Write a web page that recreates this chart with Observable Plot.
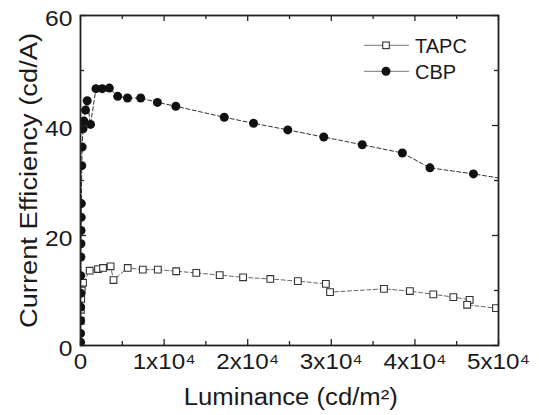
<!DOCTYPE html>
<html>
<head>
<meta charset="utf-8">
<script src="https://cdn.jsdelivr.net/npm/d3@7"></script>
<script src="https://cdn.jsdelivr.net/npm/@observablehq/plot@0.6"></script>
<style>
  html, body { margin: 0; padding: 0; background: #fff; }
  #chart svg { display: block; }
</style>
</head>
<body>
<div id="chart"></div>
<script>
// Data
const cbpLum = [3, 6, 10, 15, 22, 30, 40, 52, 66, 82, 100, 150, 200, 300, 410, 600, 800, 1200, 1850, 2600, 3450, 4450, 5620, 7200, 9200, 11400, 17200, 20700, 24800, 29100, 33700, 38500, 41800, 47000, 51500];
const cbpCE  = [0.6, 2.2, 4.5, 7.0, 9.5, 12.7, 16.1, 18.5, 20.9, 23.3, 25.8, 32.7, 36.1, 39.4, 40.8, 42.8, 44.5, 40.2, 46.7, 46.7, 46.8, 45.3, 45.0, 45.0, 44.2, 43.5, 41.5, 40.4, 39.2, 37.9, 36.5, 35.0, 32.3, 31.2, 30.1];

const tapcLum = [20, 40, 80, 150, 300, 1100, 2100, 2700, 3600, 3950, 5650, 7450, 9250, 11450, 13850, 16650, 19450, 22700, 26000, 29350, 29850, 36300, 39400, 42200, 44600, 46550, 46250, 49700];
const tapcCE  = [4.5, 6.5, 8.5, 10.0, 11.4, 13.6, 13.9, 14.1, 14.4, 11.9, 14.1, 13.8, 13.8, 13.5, 13.2, 12.8, 12.4, 12.1, 11.7, 11.2, 9.7, 10.3, 9.9, 9.3, 8.8, 8.3, 7.4, 6.8];

const xMajor = [0, 10000, 20000, 30000, 40000, 50000];
const xMinor = [5000, 15000, 25000, 35000, 45000];
const xTickLabels = ["0", "1x10⁴", "2x10⁴", "3x10⁴", "4x10⁴", "5x10⁴"];
const yMajor = [0, 20, 40, 60];
const yMinor = [10, 30, 50];
const seriesNames = ["TAPC", "CBP"];
const xTitle = "Luminance (cd/m²)";
const yTitle = "Current Efficiency (cd/A)";

const cbp = cbpLum.map((l, i) => ({lum: l, ce: cbpCE[i]}));
const tapc = tapcLum.map((l, i) => ({lum: l, ce: tapcCE[i]}));

const W = 539, H = 415, ML = 80, MR = 41, MT = 15, MB = 70;
const PW = W - ML - MR, PH = H - MT - MB;
const font = "'Liberation Sans', Arial, Helvetica, sans-serif";
const ink = "#1a1a1a";

const chart = Plot.plot({
  width: W, height: H,
  marginLeft: ML, marginRight: MR, marginTop: MT, marginBottom: MB,
  style: {fontFamily: font, fontSize: "22px", background: "#fff", color: ink, overflow: "visible"},
  x: {domain: [0, 50000]},
  y: {domain: [0, 60]},
  marks: [
    Plot.line(tapc, {x: "lum", y: "ce", stroke: "#666", strokeWidth: 1, strokeDasharray: "4,2.5", clip: true}),
    Plot.line(cbp, {x: "lum", y: "ce", stroke: "#333", strokeWidth: 1, strokeDasharray: "4,2.5", clip: true}),
    Plot.dot(tapc, {x: "lum", y: "ce", symbol: "square", r: 3.8, fill: "#fff", stroke: "#333", strokeWidth: 1.1, clip: true}),
    Plot.dot(cbp, {x: "lum", y: "ce", r: 4.5, fill: "#111", stroke: "none", clip: true}),
    // inward ticks on all four sides
    Plot.tickX(xMajor, {x: d => d, insetTop: PH - 6, stroke: "#222", strokeWidth: 1.3}),
    Plot.tickX(xMajor, {x: d => d, insetBottom: PH - 6, stroke: "#222", strokeWidth: 1.3}),
    Plot.tickX(xMinor, {x: d => d, insetTop: PH - 4, stroke: "#222", strokeWidth: 1.3}),
    Plot.tickX(xMinor, {x: d => d, insetBottom: PH - 4, stroke: "#222", strokeWidth: 1.3}),
    Plot.tickY(yMajor, {y: d => d, insetRight: PW - 6, stroke: "#222", strokeWidth: 1.3}),
    Plot.tickY(yMajor, {y: d => d, insetLeft: PW - 6, stroke: "#222", strokeWidth: 1.3}),
    Plot.tickY(yMinor, {y: d => d, insetRight: PW - 4, stroke: "#222", strokeWidth: 1.3}),
    Plot.tickY(yMinor, {y: d => d, insetLeft: PW - 4, stroke: "#222", strokeWidth: 1.3}),
    Plot.frame({stroke: "#222", strokeWidth: 1.8}),
    Plot.axisX({ticks: xMajor, tickFormat: (d, i) => xTickLabels[i], tickSize: 0, tickPadding: 8, label: null, fontSize: 22, fill: ink, className: "xlab"}),
    Plot.axisY({ticks: yMajor, tickSize: 0, tickPadding: 8, dy: 3, label: null, fontSize: 22, fill: ink, className: "ylab"}),
    Plot.text([xTitle], {frameAnchor: "bottom", dx: 1.3, dy: 52.6, fontSize: 23, fill: ink, lineAnchor: "middle", textAnchor: "middle", className: "xtitle"}),
    Plot.text([yTitle], {frameAnchor: "left", dx: -50.5, rotate: -90, fontSize: 23, fill: ink, lineAnchor: "middle", textAnchor: "middle", className: "ytitle"})
  ]
});

document.getElementById("chart").appendChild(chart);

// Widen texts to match the reference's wider lettering, keeping their anchoring exact
function stretch(sel, factor, fixedLen) {
  d3.select(chart).selectAll(sel).each(function() {
    const len = this.getComputedTextLength();
    const newLen = fixedLen ? fixedLen : len * factor;
    const anchor = getComputedStyle(this).textAnchor;
    const shift = anchor === "middle" ? -newLen / 2 : anchor === "end" ? -newLen : 0;
    this.style.textAnchor = "start";
    this.setAttribute("dx", shift);
    this.setAttribute("textLength", newLen);
    this.setAttribute("lengthAdjust", "spacingAndGlyphs");
  });
}
stretch(".xlab text", 1.1);
stretch(".ylab text", 1.12);
stretch(".xtitle text", 0, 214);
stretch(".ytitle text", 0, 295);

// Legend inside the frame, top-right
const svg = d3.select(chart);
const lg = svg.append("g").attr("font-family", font).attr("font-size", 20).attr("text-anchor", "start");
const legendRows = [
  {name: seriesNames[0], y: 45.3, kind: "square"},
  {name: seriesNames[1], y: 71.3, kind: "circle"}
];
legendRows.forEach(r => {
  lg.append("line").attr("x1", 364).attr("x2", 409).attr("y1", r.y).attr("y2", r.y)
    .attr("stroke", "#777").attr("stroke-width", 1);
  if (r.kind === "square") {
    lg.append("rect").attr("x", 386 - 3.3).attr("y", r.y - 3.3).attr("width", 6.6).attr("height", 6.6)
      .attr("fill", "#fff").attr("stroke", "#333").attr("stroke-width", 1.1);
  } else {
    lg.append("circle").attr("cx", 386).attr("cy", r.y).attr("r", 4.5).attr("fill", "#111");
  }
  lg.append("text").attr("x", 415).attr("y", r.y).attr("dy", "0.36em").attr("fill", ink).text(r.name);
});
</script>
</body>
</html>
